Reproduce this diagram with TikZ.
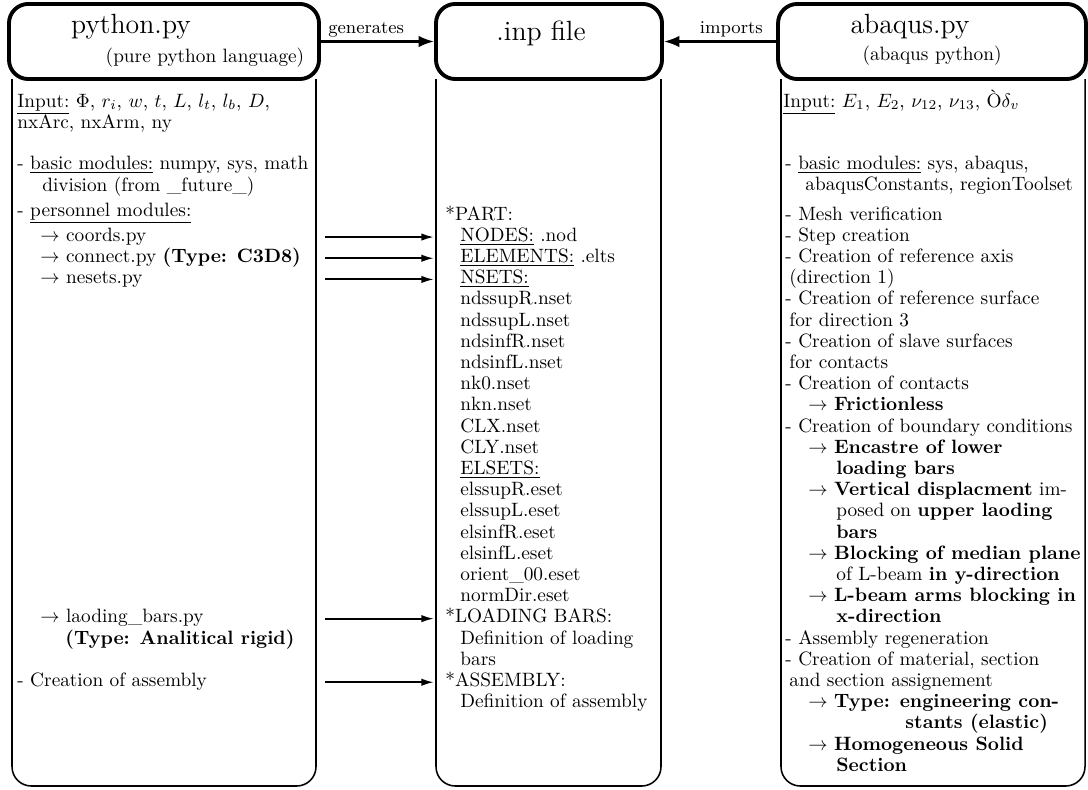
\documentclass[tikz,border=0pt]{standalone}
\usetikzlibrary{arrows.meta}

\begin{document}
\begin{tikzpicture}[x=0.518pt,y=-0.518pt,
   head/.style={draw,line width=2pt,rounded corners=10pt,inner sep=0pt,minimum height=38.9pt},
   ttl/.style={anchor=base,inner sep=0pt,font=\Large},
   sub/.style={anchor=base,inner sep=0pt,font=\normalsize},
   txt/.style={anchor=base west,inner sep=0pt,font=\normalsize},
   frame/.style={thick,rounded corners=10pt},
   link/.style={line width=1.2pt,-{Latex[length=8pt,width=6pt]}},
   lbl/.style={above,inner sep=1.5pt,font=\fontsize{9.4}{11}\selectfont},
   feed/.style={line width=1pt,-{Latex[length=6.5pt,width=3.8pt]}}]

  \useasboundingbox (0,0) rectangle (1088,789);

  % cabeceras
  \node[head,minimum width=160.6pt] (pyhead)  at (164,41.5) {};
  \node[head,minimum width=117.1pt] (inphead) at (549,41.5) {};
  \node[head,minimum width=159.5pt] (abqhead) at (932,41.5) {};
  \node[ttl] (pytitle)  at (131,33) {python.py};
  \node[sub] (pysub)    at (205,62) {(pure python language)};
  \node[ttl] (inptitle) at (541,40) {.inp file};
  \node[ttl] (abqtitle) at (910,33) {abaqus.py};
  \node[sub] (abqsub)   at (932,60) {(abaqus python)};

  \draw[link] (pyhead) -- node[lbl,pos=0.4] {generates} (inphead);
  \draw[link] (abqhead) -- node[lbl,pos=0.4] {imports} (inphead);

  % columnas
  \draw[frame] (12,79) -- (12,786) -- (316,786) -- (316,79);
  \draw[frame] (436,79) -- (436,786) -- (661,786) -- (661,79);
  \draw[frame] (781,79) -- (781,786) -- (1085,786) -- (1085,79);

  % --- python.py ---
  \node[txt] (lin)  at (17,107) {\underline{Input:} $\Phi$, $r_i$, $w$, $t$, $L$, $l_t$, $l_b$, $D$,};
  \node[txt] (lnx)  at (17,128) {nxArc, nxArm, ny};
  \node[txt] (lbas) at (17,169) {- \underline{basic modules:} numpy, sys, math};
  \node[txt] (ldiv) at (42,191) {division (from \_future\_)};
  \node[txt] (lper) at (17,216) {- \underline{personnel modules:}};
  \node[txt] (lcoo) at (40,{220+21.2*1}) {$\rightarrow$ coords.py};
  \node[txt] (lcon) at (40,{220+21.2*2}) {$\rightarrow$ connect.py \textbf{(Type: C3D8)}};
  \node[txt] (lnes) at (40,{220+21.2*3}) {$\rightarrow$ nesets.py};
  \node[txt] (llb)  at (40,{220+21.2*19}) {$\rightarrow$ laoding\_bars.py};
  \node[txt] (ltyp) at (65,{220+21.2*20}) {\textbf{(Type: Analitical rigid)}};
  \node[txt] (lass) at (17,{220+21.2*22}) {- Creation of assembly};

  % --- .inp file ---
  \foreach \xx/\txt [count=\fila from 0] in {445/*PART:, 460/\underline{NODES:} .nod,
      460/\underline{ELEMENTS:} .elts, 460/\underline{NSETS:}, 460/ndssupR.nset, 460/ndssupL.nset,
      460/ndsinfR.nset, 460/ndsinfL.nset, 460/nk0.nset, 460/nkn.nset, 460/CLX.nset, 460/CLY.nset,
      460/\underline{ELSETS:}, 460/elssupR.eset, 460/elssupL.eset, 460/elsinfR.eset,
      460/elsinfL.eset, 460/orient\_00.eset, 460/normDir.eset, 445/*LOADING BARS:,
      460/Definition of loading, 460/bars, 445/*ASSEMBLY:, 460/Definition of assembly}
    \node[txt] (inp\fila) at (\xx,{220+21.2*\fila}) {\txt};

  % --- abaqus.py ---
  \node[txt] (abqin)  at (783,107) {\underline{Input:} $E_1$, $E_2$, $\nu_{12}$, $\nu_{13}$, Ò$\delta_v$};
  \node[txt] (abqbas) at (785,169) {- \underline{basic modules:} sys, abaqus,};
  \node[txt] (abqcon) at (805,190) {abaqusConstants, regionToolset};
  \foreach \xx/\txt [count=\fila from 0] in {785/- Mesh verification, 785/- Step creation,
      785/- Creation of reference axis, 789/(direction 1), 785/- Creation of reference surface,
      789/for direction 3, 785/- Creation of slave surfaces, 789/for contacts,
      785/- Creation of contacts, 808/$\rightarrow$ \textbf{Frictionless},
      785/- Creation of boundary conditions, 808/$\rightarrow$ \textbf{Encastre of lower},
      836/\textbf{loading bars}, 808/$\rightarrow$ \textbf{Vertical displacment} im-,
      836/posed on \textbf{upper laoding}, 836/\textbf{bars},
      808/$\rightarrow$ \textbf{Blocking of median plane}, 836/of L-beam \textbf{in y-direction},
      808/$\rightarrow$ \textbf{L-beam arms blocking in}, 836/\textbf{x-direction},
      785/- Assembly regeneration, {785/- Creation of material, section},
      789/and section assignement, 808/$\rightarrow$ \textbf{Type: engineering con-},
      905/\textbf{stants (elastic)}, 808/$\rightarrow$ \textbf{Homogeneous Solid},
      836/\textbf{Section}}
    \node[txt] (abq\fila) at (\xx,{220+21.2*\fila}) {\txt};

  % flechas hacia .inp
  \coordinate (lout) at (325,0);
  \coordinate (cin)  at (434,0);
  \draw[feed] (lcoo.mid -| lout) -- (inp1.mid -| cin);
  \draw[feed] (lcon.mid -| lout) -- (inp2.mid -| cin);
  \draw[feed] (lnes.mid -| lout) -- (inp3.mid -| cin);
  \draw[feed] (llb.mid -| lout)  -- (inp19.mid -| cin);
  \draw[feed] (lass.mid -| lout) -- (inp22.mid -| cin);
\end{tikzpicture}
\end{document}
